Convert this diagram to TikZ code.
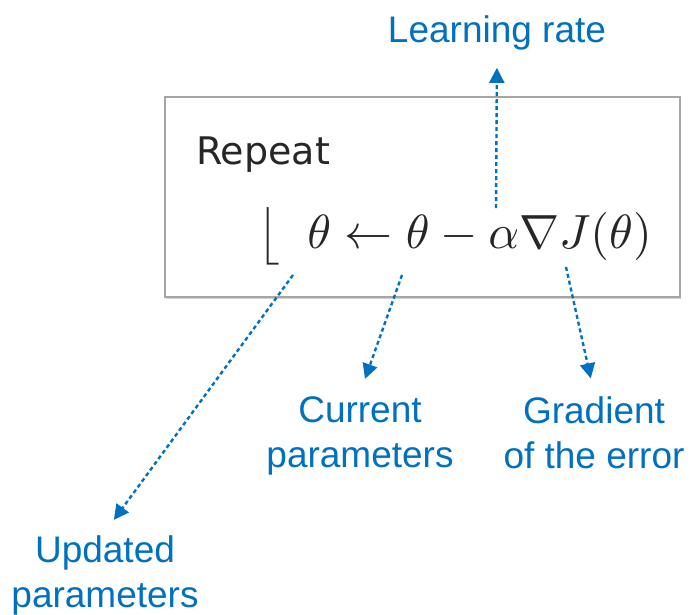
\documentclass[tikz,border=0pt]{standalone}
\usepackage[no-math]{fontspec}
\setmainfont{Liberation Sans}
\newfontfamily\repeatfont{DejaVu Sans}
\usetikzlibrary{arrows.meta,shadows}
\definecolor{lblblue}{HTML}{0070C0}
\tikzset{
  lbl/.style={align=center, text=lblblue, inner sep=3pt, font=\fontsize{37}{45}\selectfont},
  pointer/.style={lblblue, line width=2.4pt, dash pattern=on 4pt off 3pt, shorten >=15pt, -{Triangle[length=15pt,width=15pt]}},
  rulebox/.style={draw=black!35, line width=1.6pt, fill=white, drop shadow={shadow xshift=1pt, shadow yshift=-2pt, opacity=0.35}}
}
\begin{document}
\begin{tikzpicture}[x=1pt, y=-1pt]
  \useasboundingbox (0,0) rectangle (690,614);
  \draw[rulebox] (165,97) rectangle (680,297);
  \node[anchor=base west, inner sep=0pt, text=black!85, font=\repeatfont\fontsize{38}{44}\selectfont] (rep) at (196,164) {Repeat};
  \node[anchor=base west, inner sep=0pt, text=black!85, scale=4.8, transform shape] (rule) at (257,248) {$\bigl\lfloor\;\;\theta\leftarrow\theta-\alpha\nabla J(\theta)$};

  \node[lbl, anchor=base] (lr) at (497,42) {Learning rate};
  \node[lbl, anchor=north] (cp) at (360,393) {Current\\parameters};
  \node[lbl, anchor=north] (ge) at (594,393) {Gradient\\of the error};
  \node[lbl, anchor=north] (up) at (105,532) {Updated\\parameters};

  \coordinate (alpha) at (496,208);
  \coordinate (theta1) at (293,275);
  \coordinate (theta2) at (402,275);
  \coordinate (grad) at (566,267);

  \draw[pointer] (alpha) -- (lr.south);
  \draw[pointer] (theta1) -- (up.north);
  \draw[pointer] (theta2) -- (cp.north);
  \draw[pointer] (grad) -- (ge.north);
\end{tikzpicture}
\end{document}
